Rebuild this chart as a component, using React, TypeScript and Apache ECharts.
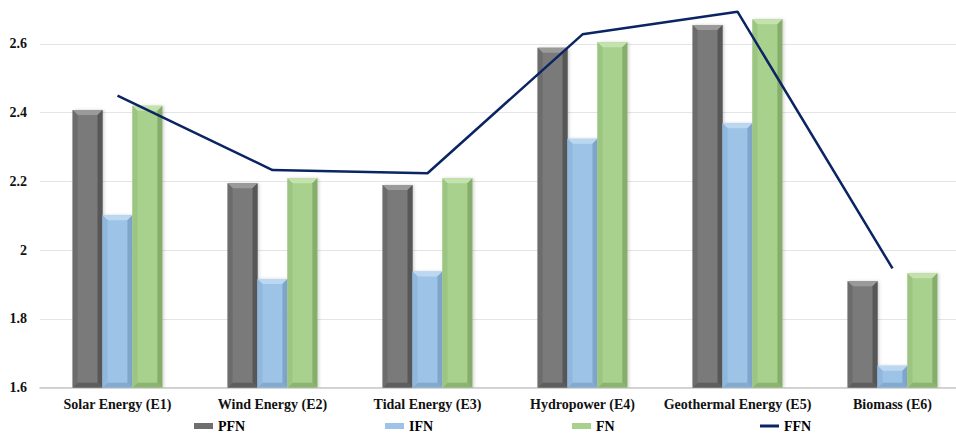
import React, { useEffect, useRef } from "react";
import * as echarts from "echarts";

// Energy sources and their scores
const categories = [
  "Solar Energy (E1)",
  "Wind Energy (E2)",
  "Tidal Energy (E3)",
  "Hydropower (E4)",
  "Geothermal Energy (E5)",
  "Biomass (E6)",
];
const pfn = [2.408, 2.195, 2.19, 2.589, 2.655, 1.91];
const ifn = [2.102, 1.916, 1.938, 2.324, 2.369, 1.664];
const fn = [2.42, 2.209, 2.209, 2.605, 2.672, 1.933];
const ffn = [2.45, 2.233, 2.224, 2.628, 2.694, 1.947];

const Y_MIN = 1.6;
const Y_MAX = 2.7;
const Y_STEP = 0.2;

const FONT = "'Liberation Serif', 'Times New Roman', serif";

type Palette = { main: string; top: string; left: string; right: string; bottom: string };

const gray: Palette = { main: "#7a7a7a", top: "#9a9a9a", left: "#6c6c6c", right: "#575757", bottom: "#5e5e5e" };
const blue: Palette = { main: "#9dc3e6", top: "#bcd8f1", left: "#90b8dd", right: "#7ea5ca", bottom: "#84aacd" };
const green: Palette = { main: "#a9d18e", top: "#c4e2ae", left: "#9cc581", right: "#86ad6c", bottom: "#8db372" };

// Beveled bar: three bars share a category, each takes one slot
function bevelBar(slot: number, p: Palette) {
  return (_params: any, api: any) => {
    const idx = api.value(0);
    const val = api.value(1);
    const band = api.size([1, 0])[0];
    const w = band * 0.193;
    const topPt = api.coord([idx, val]);
    const basePt = api.coord([idx, Y_MIN]);
    const x0 = topPt[0] - 1.5 * w + slot * w;
    const x1 = x0 + w;
    const y0 = topPt[1];
    const y1 = basePt[1];
    const e = Math.min(5, w / 2, (y1 - y0) / 2);
    return {
      type: "group",
      children: [
        {
          type: "rect",
          shape: { x: x0, y: y0, width: w, height: y1 - y0 },
          style: {
            fill: p.main,
            shadowColor: "rgba(0,0,0,0.18)",
            shadowBlur: 3,
            shadowOffsetX: 1.5,
            shadowOffsetY: 0,
          },
        },
        {
          type: "polygon",
          shape: { points: [[x0, y0], [x1, y0], [x1 - e, y0 + e], [x0 + e, y0 + e]] },
          style: { fill: p.top },
        },
        {
          type: "polygon",
          shape: { points: [[x1, y0], [x1, y1], [x1 - e, y1 - e], [x1 - e, y0 + e]] },
          style: { fill: p.right },
        },
        {
          type: "polygon",
          shape: { points: [[x0, y1], [x1, y1], [x1 - e, y1 - e], [x0 + e, y1 - e]] },
          style: { fill: p.bottom },
        },
        {
          type: "polygon",
          shape: { points: [[x0, y0], [x0 + e, y0 + e], [x0 + e, y1 - e], [x0, y1]] },
          style: { fill: p.left },
        },
      ],
    };
  };
}

function barSeries(name: string, values: number[], slot: number, p: Palette) {
  return {
    name,
    type: "custom",
    renderItem: bevelBar(slot, p),
    encode: { x: 0, y: 1 },
    itemStyle: { color: p.main },
    data: values.map((v, i) => [i, v]),
    clip: true,
  };
}

function legendItem(name: string, left: number, color: string, h: number) {
  return {
    data: [{ name, icon: "rect", itemStyle: { color } }],
    left,
    top: 419,
    padding: 0,
    itemWidth: 19,
    itemHeight: h,
    itemGap: 0,
    selectedMode: false,
    textStyle: { fontFamily: FONT, fontWeight: "bold", fontSize: 14, color: "#000" },
  };
}

export default function App() {
  const ref = useRef<HTMLDivElement>(null);

  useEffect(() => {
    if (!ref.current) return;
    const chart = echarts.init(ref.current, undefined, { renderer: "svg" });
    chart.setOption({
      animation: false,
      backgroundColor: "#ffffff",
      grid: {
        left: 40,
        width: 930,
        top: 9.6,
        bottom: 46.3,
        containLabel: false,
        outerBoundsMode: "none",
      },
      legend: [
        legendItem("PFN", 194, "#6f6f6f", 6),
        legendItem("IFN", 385, "#9dc3e6", 6),
        legendItem("FN", 572, "#a9d18e", 6),
        legendItem("FFN", 760, "#0b2463", 3),
      ],
      xAxis: {
        type: "category",
        data: categories,
        axisLine: { show: true, lineStyle: { color: "#c8c8c8", width: 1.5 } },
        axisTick: { show: false },
        axisLabel: {
          fontFamily: FONT,
          fontWeight: "bold",
          fontSize: 14,
          color: "#111",
          margin: 10,
          interval: 0,
        },
      },
      yAxis: {
        type: "value",
        min: Y_MIN,
        max: Y_MAX,
        interval: Y_STEP,
        axisLine: { show: false },
        axisTick: { show: false },
        splitLine: { show: true, showMaxLine: false, lineStyle: { color: "#e4e4e4", width: 1 } },
        axisLabel: {
          fontFamily: FONT,
          fontWeight: "bold",
          fontSize: 14,
          color: "#111",
          margin: 13,
          showMaxLabel: false,
          formatter: (v: number) => String(Math.round(v * 10) / 10),
        },
      },
      series: [
        barSeries("PFN", pfn, 0, gray),
        barSeries("IFN", ifn, 1, blue),
        barSeries("FN", fn, 2, green),
        {
          name: "FFN",
          type: "line",
          data: ffn,
          symbol: "none",
          z: 10,
          lineStyle: { color: "#0b2463", width: 2.5 },
          itemStyle: { color: "#0b2463" },
        },
      ],
    });
    return () => chart.dispose();
  }, []);

  return (
    <div
      ref={ref}
      style={{ position: "absolute", left: 0, top: 0, width: 956, height: 434 }}
    />
  );
}
